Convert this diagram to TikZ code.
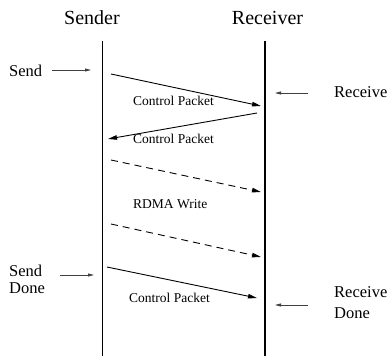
\documentclass[tikz,border=0pt]{standalone}
\usepackage{fontspec}
\setmainfont{Liberation Serif}
\usetikzlibrary{arrows.meta}
\begin{document}
\begin{tikzpicture}[x=1pt,y=-1pt,
  lifeline/.style={line width=1.4pt},
  msg/.style={line width=0.9pt,-{Triangle[length=9pt,width=4.5pt]}},
  dmsg/.style={msg,dash pattern=on 7pt off 5pt},
  event/.style={line width=0.8pt,draw=black!75,-{Triangle[length=6pt,width=3pt]}},
  title/.style={inner sep=0pt,anchor=base,font=\fontsize{20}{24}\selectfont},
  evlbl/.style={inner sep=0pt,anchor=north west,align=left},
  pktlbl/.style={inner sep=0pt,anchor=base west,font=\fontsize{13.5}{16}\selectfont}]
\useasboundingbox (0,0) rectangle (389,356);

% participants and their lifelines
\node[title] (sender) at (92,24) {Sender};
\node[title] (receiver) at (267.5,24) {Receiver};
\coordinate (stop) at (102.5,41);
\coordinate (sbot) at (102.5,357);
\coordinate (rtop) at (265,41);
\coordinate (rbot) at (265,357);
\draw[lifeline] (stop) -- (sbot);
\draw[lifeline] (rtop) -- (rbot);

% points where messages leave and arrive
\coordinate (m1a) at (111,74);   \coordinate (m1b) at (261,106);
\coordinate (m2a) at (257,113);  \coordinate (m2b) at (108,139);
\coordinate (m3a) at (111,160);  \coordinate (m3b) at (261,192);
\coordinate (m4a) at (111,224);  \coordinate (m4b) at (261,257);
\coordinate (m5a) at (107,267);  \coordinate (m5b) at (257,298);

\draw[msg]  (m1a) -- (m1b);
\draw[msg]  (m2a) -- (m2b);
\draw[dmsg] (m3a) -- (m3b);
\draw[dmsg] (m4a) -- (m4b);
\draw[msg]  (m5a) -- (m5b);

\node[pktlbl] (p1) at (133,105) {Control Packet};
\node[pktlbl] (p2) at (133,143) {Control Packet};
\node[pktlbl] (rw) at (133,208) {RDMA Write};
\node[pktlbl] (p3) at (129,302) {Control Packet};

% event labels with their pointers
\node[evlbl,font=\fontsize{16.5}{17}\selectfont] (send) at (9,64.5) {Send};
\coordinate (sendA) at (52,70);  \coordinate (sendB) at (91,70);
\draw[event] (sendA) -- (sendB);

\node[evlbl,font=\fontsize{16.5}{17}\selectfont] (sdone) at (9,264.5) {Send\\Done};
\coordinate (sdA) at (60,275);  \coordinate (sdB) at (94,275);
\draw[event] (sdA) -- (sdB);

\node[evlbl,font=\fontsize{16.5}{21}\selectfont] (recv) at (334,86) {Receive};
\coordinate (rvA) at (308,93);  \coordinate (rvB) at (275,93);
\draw[event] (rvA) -- (rvB);

\node[evlbl,font=\fontsize{16.5}{21}\selectfont] (rdone) at (334,286) {Receive\\Done};
\coordinate (rdA) at (308,305);  \coordinate (rdB) at (275,305);
\draw[event] (rdA) -- (rdB);
\end{tikzpicture}
\end{document}
